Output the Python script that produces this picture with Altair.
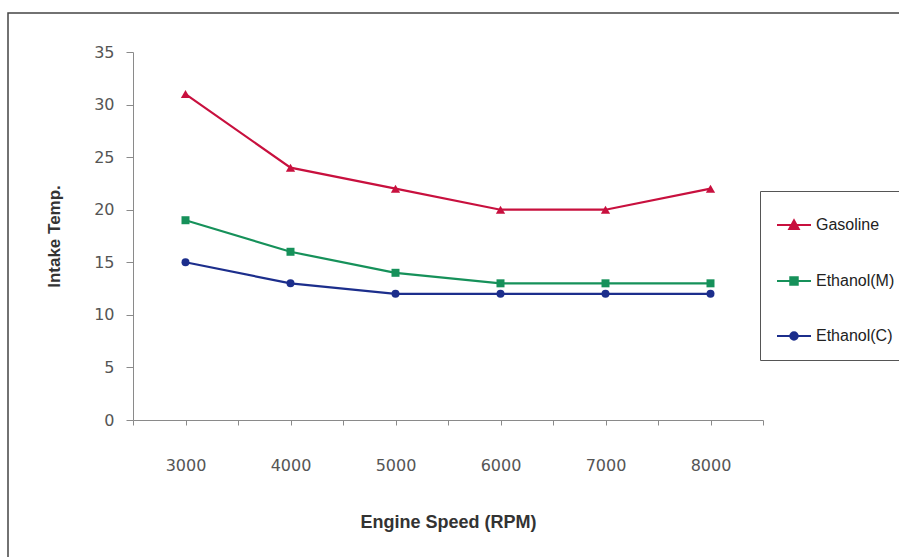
import altair as alt
import pandas as pd

# ---- data ----
rpm = [3000, 4000, 5000, 6000, 7000, 8000]
gasoline = [31, 24, 22, 20, 20, 22]
ethanol_m = [19, 16, 14, 13, 13, 13]
ethanol_c = [15, 13, 12, 12, 12, 12]

series_names = ["Gasoline", "Ethanol(M)", "Ethanol(C)"]
series_colors = ["#C8103E", "#16915A", "#1C2E8C"]
series_shapes = ["triangle-up", "square", "circle"]
# legend symbols: line segment with the marker in the middle
legend_paths = [
    "M-1,0H1M-0.28,0.24L0,-0.27L0.28,0.24Z",
    "M-1,0H1M-0.22,-0.22H0.22V0.22H-0.22Z",
    "M-1,0H1M0.22,0A0.22,0.22,0,1,1,-0.22,0A0.22,0.22,0,1,1,0.22,0Z",
]

x_tick_values = [2500, 3000, 3500, 4000, 4500, 5000, 5500, 6000, 6500, 7000, 7500, 8000, 8500]
x_label_values = [3000, 4000, 5000, 6000, 7000, 8000]
y_tick_values = [0, 5, 10, 15, 20, 25, 30, 35]

rows = []
for name, vals in zip(series_names, [gasoline, ethanol_m, ethanol_c]):
    for r, v in zip(rpm, vals):
        rows.append({"rpm": r, "temp": v, "series": name})
df = pd.DataFrame(rows)

x_enc = alt.X(
    "rpm:Q",
    scale=alt.Scale(domain=[2500, 8500], nice=False, zero=False),
    axis=alt.Axis(
        values=x_tick_values,
        format="d",
        labelExpr="indexof(" + str(x_label_values) + ", datum.value) >= 0 ? datum.label : ''",
        title="Engine Speed (RPM)",
        grid=False,
        domainColor="#8a8a8a",
        tickColor="#8a8a8a",
        tickSize=5,
        labelPadding=32,
        labelFont="DejaVu Sans",
        labelFontSize=16,
        labelColor="#555555",
        titleFont="Liberation Sans",
        titleFontSize=18,
        titleFontWeight="bold",
        titleColor="#333333",
        titlePadding=40,
    ),
)
y_enc = alt.Y(
    "temp:Q",
    scale=alt.Scale(domain=[0, 35], nice=False),
    axis=alt.Axis(
        values=y_tick_values,
        title="Intake Temp.",
        grid=False,
        domainColor="#8a8a8a",
        tickColor="#8a8a8a",
        tickSize=7,
        labelPadding=12,
        labelFont="DejaVu Sans",
        labelFontSize=16,
        labelColor="#555555",
        titleFont="Liberation Sans",
        titleFontSize=17,
        titleFontWeight="bold",
        titleColor="#333333",
        titlePadding=30,
    ),
)

base = alt.Chart(df)

frame = alt.Chart(pd.DataFrame({"k": [0]})).mark_rect(
    fillOpacity=0, stroke="#444444", strokeWidth=1.5
).encode(x=alt.value(-125), x2=alt.value(900), y=alt.value(-39), y2=alt.value(600))

layers = [frame]
for name, color, shape in zip(series_names, series_colors, series_shapes):
    sub = base.transform_filter(alt.datum.series == name)
    layers.append(sub.mark_line(color=color, strokeWidth=2.2).encode(x=x_enc, y=y_enc))
    layers.append(
        sub.mark_point(filled=True, color=color, shape=shape, size=64 if shape != "triangle-up" else 85, opacity=1).encode(
            x=x_enc, y=y_enc
        )
    )

legend = alt.Legend(
    title=None,
    orient="none",
    legendX=627,
    legendY=139,
    padding=16,
    strokeColor="#555555",
    fillColor="white",
    symbolSize=1156,
    symbolStrokeWidth=2,
    labelFont="Liberation Sans",
    labelFontSize=16,
    labelColor="#222222",
    labelOffset=4,
    rowPadding=29,
)
legend_layer = base.transform_filter("false").mark_point(filled=True, opacity=1).encode(
    x=x_enc,
    y=y_enc,
    fill=alt.Fill("series:N", scale=alt.Scale(domain=series_names, range=series_colors), legend=legend),
    stroke=alt.Stroke("series:N", scale=alt.Scale(domain=series_names, range=series_colors), legend=legend),
    shape=alt.Shape("series:N", scale=alt.Scale(domain=series_names, range=legend_paths), legend=legend),
)
layers.append(legend_layer)

chart = (
    alt.layer(*layers)
    .properties(
        width=630,
        height=368,
        autosize=alt.AutoSizeParams(type="none"),
        padding={"left": 133, "top": 52, "right": 136, "bottom": 137},
        background="white",
    )
    .configure_view(stroke=None)
)

chart.save("out.html", embed_options={"renderer": "svg", "actions": False})
